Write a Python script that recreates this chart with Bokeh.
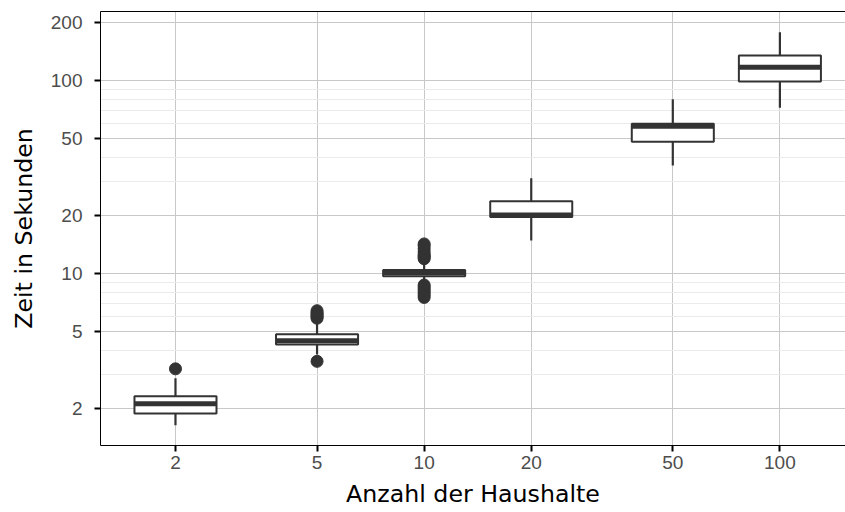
from bokeh.plotting import figure
from bokeh.models import FixedTicker, Range1d, LogAxis, CustomJSTickFormatter, ColumnDataSource
from bokeh.embed import file_html
from bokeh.resources import INLINE

# ---- data ----
haushalte = [2, 5, 10, 20, 50, 100]
whisker_low = [1.63, 3.8, 8.9, 14.8, 36.2, 72.1]
q1 = [1.88, 4.28, 9.66, 19.6, 48.1, 98.6]
median = [2.11, 4.48, 10.06, 20.05, 57.8, 116.9]
q3 = [2.31, 4.83, 10.4, 23.6, 59.5, 134.5]
whisker_high = [2.86, 5.6, 11.5, 31.1, 79.8, 177.5]

outlier_group = [2,
                 5, 5, 5, 5, 5, 5, 5,
                 10, 10, 10, 10, 10, 10, 10, 10,
                 10, 10, 10, 10, 10, 10, 10]
outlier_value = [3.2,
                 3.5, 5.85, 5.95, 6.05, 6.15, 6.25, 6.4,
                 11.9, 12.1, 12.3, 12.5, 12.9, 13.4, 13.9, 14.2,
                 8.7, 8.5, 8.3, 8.1, 7.9, 7.7, 7.5]

x_ticks = [2, 5, 10, 20, 50, 100]
y_ticks = [2, 5, 10, 20, 50, 100, 200]
y_minor = [3, 4, 6, 7, 8, 9, 30, 40, 60, 70, 80, 90]

x_title = "Anzahl der Haushalte"
y_title = "Zeit in Sekunden"

# ---- styling ----
BOX_HALF = 0.1153  # half box width in decades
DARK = "#333333"
TICK_FONT = "Liberation Sans"
TITLE_FONT = "DejaVu Sans"
TITLE_SIZE = "23.7px"

left = [h * 10 ** (-BOX_HALF) for h in haushalte]
right = [h * 10 ** BOX_HALF for h in haushalte]
src = ColumnDataSource(dict(x=haushalte, left=left, right=right, lo=whisker_low,
                            q1=q1, med=median, q3=q3, hi=whisker_high))

p = figure(width=845, height=512, x_axis_type="log", y_axis_type="log",
           x_range=Range1d(1.231, 152.9), y_range=Range1d(1.282, 227.3),
           output_backend="svg", toolbar_location=None,
           min_border_left=100, min_border_right=0, min_border_top=11, min_border_bottom=67)
p.outline_line_color = None
p.background_fill_color = "white"
p.border_fill_color = "white"

# grids
p.xaxis.ticker = FixedTicker(ticks=x_ticks, minor_ticks=[])
p.yaxis.ticker = FixedTicker(ticks=y_ticks, minor_ticks=y_minor)
p.xgrid.grid_line_color = "#c8c8c8"
p.ygrid.grid_line_color = "#c8c8c8"
p.ygrid.minor_grid_line_color = "#ebebeb"
p.xgrid.minor_grid_line_color = None

fmt = CustomJSTickFormatter(code="return String(tick)")
for ax in (p.xaxis[0], p.yaxis[0]):
    ax.formatter = fmt
    ax.axis_line_color = "black"
    ax.axis_line_width = 1
    ax.major_tick_line_color = "black"
    ax.major_tick_line_width = 2
    ax.major_tick_out = 6
    ax.major_tick_in = 0
    ax.minor_tick_out = 0
    ax.minor_tick_in = 0
    ax.major_label_text_font = TICK_FONT
    ax.major_label_text_font_size = "19px"
    ax.major_label_text_color = "#4d4d4d"
    ax.axis_label_text_font = TITLE_FONT
    ax.axis_label_text_font_size = TITLE_SIZE
    ax.axis_label_text_font_style = "normal"
    ax.axis_label_text_color = "black"

p.xaxis.axis_label = x_title
p.yaxis.axis_label = y_title
p.xaxis.major_label_standoff = 4
p.xaxis.axis_label_standoff = 8
p.yaxis.major_label_standoff = 12
p.yaxis.axis_label_standoff = 10

# top border line
top_axis = LogAxis(ticker=FixedTicker(ticks=[]), axis_line_color="black", axis_line_width=1,
                   major_tick_out=0, major_tick_in=0, minor_tick_out=0, minor_tick_in=0,
                   major_label_text_font_size="0px", major_label_standoff=0)
p.add_layout(top_axis, "above")

# whiskers
p.segment(x0="x", y0="q3", x1="x", y1="hi", source=src, line_color=DARK, line_width=2.2)
p.segment(x0="x", y0="q1", x1="x", y1="lo", source=src, line_color=DARK, line_width=2.2)
# boxes
p.quad(left="left", right="right", bottom="q1", top="q3", source=src,
       fill_color="white", line_color=DARK, line_width=2)
# medians
p.segment(x0="left", y0="med", x1="right", y1="med", source=src,
          line_color=DARK, line_width=5, line_cap="butt")
# outliers
p.scatter(x=outlier_group, y=outlier_value, size=12, fill_color=DARK, line_color=DARK)

open("out.html", "w").write(file_html(p, INLINE))
